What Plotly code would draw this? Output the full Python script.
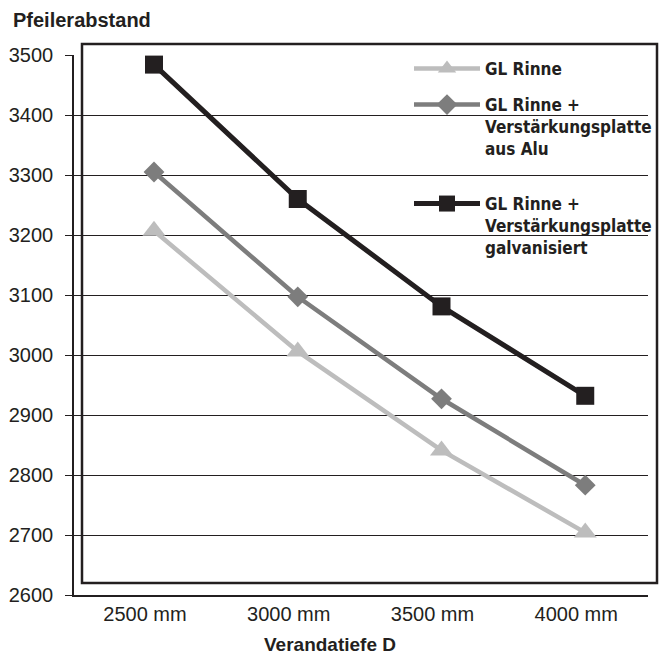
import plotly.graph_objects as go

categories = ["2500 mm", "3000 mm", "3500 mm", "4000 mm"]
gl_rinne = [3207, 3006, 2841, 2704]
gl_alu = [3305, 3097, 2927, 2783]
gl_galv = [3484, 3260, 3081, 2932]
y_ticks = [2600, 2700, 2800, 2900, 3000, 3100, 3200, 3300, 3400, 3500]

names = [
    "GL Rinne",
    "GL Rinne +<br>Verstärkungsplatte<br>aus Alu",
    "GL Rinne +<br>Verstärkungsplatte<br>galvanisiert",
]

W, H = 659, 654
L, R, T, B = 74, 11, 55, 59
pw, ph = W - L - R, H - T - B

def px(x):
    return (x - L) / pw

def py(y):
    return (H - B - y) / ph

fig = go.Figure()
fig.add_trace(go.Scatter(x=categories, y=gl_rinne, name=names[0], mode="lines+markers",
                         legend="legend",
                         line=dict(color="#bdbdbd", width=4.5),
                         marker=dict(symbol="triangle-up", size=20, color="#bdbdbd")))
fig.add_trace(go.Scatter(x=categories, y=gl_alu, name=names[1], mode="lines+markers",
                         legend="legend2",
                         line=dict(color="#7d7d7d", width=4.5),
                         marker=dict(symbol="diamond", size=16, color="#7d7d7d")))
fig.add_trace(go.Scatter(x=categories, y=gl_galv, name=names[2], mode="lines+markers",
                         legend="legend3",
                         line=dict(color="#231f20", width=5),
                         marker=dict(symbol="square", size=18, color="#231f20")))

legend_font = dict(family="DejaVu Sans Condensed, DejaVu Sans, sans-serif",
                   size=17, weight="bold", color="#231f20")

def legend_at(top):
    return dict(
        x=px(409), y=py(top), xanchor="left", yanchor="top",
        bgcolor="rgba(0,0,0,0)", borderwidth=0,
        itemwidth=66, valign="top",
        font=legend_font,
        itemclick=False, itemdoubleclick=False,
    )

fig.update_layout(
    width=W, height=H,
    margin=dict(l=L, r=R, t=T, b=B, pad=0, autoexpand=False),
    paper_bgcolor="white", plot_bgcolor="white",
    font=dict(family="Liberation Sans, Arial, sans-serif", size=20, color="#231f20"),
    showlegend=True,
    legend=legend_at(51),
    legend2=legend_at(87),
    legend3=legend_at(186),
    xaxis=dict(
        type="category", range=[-0.5565, 3.4365],
        showgrid=False, zeroline=False,
        showline=True, linecolor="#231f20", linewidth=1.5,
        ticks="", ticklabelshift=-9, ticklabelstandoff=0,
        tickfont=dict(size=20),
    ),
    yaxis=dict(
        range=[2600, 3500], tickvals=y_ticks,
        showgrid=True, gridcolor="#231f20", gridwidth=1,
        zeroline=False,
        showline=True, linecolor="#231f20", linewidth=1.5,
        ticks="outside", ticklen=7, tickcolor="#231f20", tickwidth=1,
        ticklabelstandoff=8,
        tickfont=dict(size=20),
    ),
    shapes=[
        dict(type="rect", xref="paper", yref="paper", layer="between",
             x0=px(382), x1=px(650), y0=py(48), y1=py(282),
             fillcolor="white", line=dict(width=0)),
        dict(type="rect", xref="paper", yref="paper", layer="above",
             x0=px(82), x1=px(657), y0=py(583), y1=py(44),
             line=dict(color="#231f20", width=2.5), fillcolor="rgba(0,0,0,0)"),
    ],
    annotations=[
        dict(text="Pfeilerabstand", xref="paper", yref="paper",
             x=px(11), y=py(20), xanchor="left", yanchor="middle", showarrow=False,
             font=dict(size=20, weight="bold", color="#231f20")),
        dict(text="Verandatiefe D", xref="paper", yref="paper",
             x=px(330), y=py(644), xanchor="center", yanchor="middle", showarrow=False,
             font=dict(size=19, weight="bold", color="#231f20")),
    ],
)

fig.write_html("out.html")
